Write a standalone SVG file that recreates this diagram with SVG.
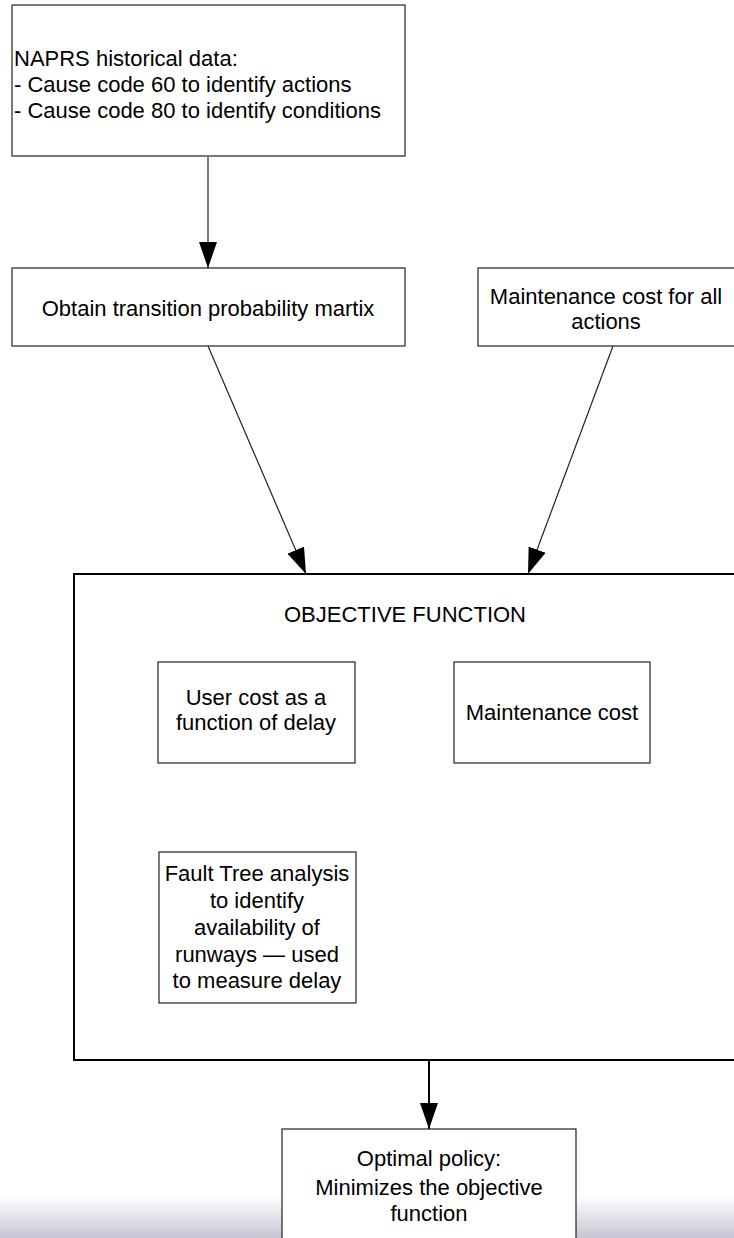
<svg xmlns="http://www.w3.org/2000/svg" width="734" height="1238" viewBox="0 0 734 1238">
<style>
  .box { fill: #ffffff; stroke: #222222; stroke-width: 1.2; }
  .big { fill: #ffffff; stroke: #000000; stroke-width: 2; }
  .t { font-family: "Liberation Sans", Arial, sans-serif; font-size: 22px; fill: #000000; }
  .c { text-anchor: middle; }
  .line { stroke: #222222; stroke-width: 1.2; fill: none; }
  .thick { stroke: #000000; stroke-width: 2; fill: none; }
</style>
<defs>
  <linearGradient id="shade" x1="0" y1="0" x2="0" y2="1">
    <stop offset="0" stop-color="#ffffff"/>
    <stop offset="1" stop-color="#c6c6d4"/>
  </linearGradient>
  <marker id="ah" markerUnits="userSpaceOnUse" markerWidth="26" markerHeight="18" refX="26" refY="9" viewBox="0 0 26 18" orient="auto">
    <path d="M0,0 L26,9 L0,18 Z" fill="#000000"/>
  </marker>
  <marker id="ah2" markerUnits="userSpaceOnUse" markerWidth="26" markerHeight="18" refX="26" refY="9" viewBox="0 0 26 18" orient="auto-start-reverse">
    <path d="M0,0 L26,9 L0,18 Z" fill="#000000"/>
  </marker>
</defs>
<rect x="0" y="1196" width="734" height="42" fill="url(#shade)"/>
<g id="connectors">
  <line class="line" x1="208" y1="157" x2="208" y2="268" marker-end="url(#ah)"/>
  <line class="line" x1="208" y1="346" x2="306" y2="574" marker-end="url(#ah)"/>
  <line class="line" x1="613" y1="346" x2="528" y2="574" marker-end="url(#ah)"/>
  <line class="line" x1="355" y1="712" x2="454" y2="712"/>
  <line class="thick" x1="258" y1="764" x2="258" y2="852" marker-start="url(#ah2)" marker-end="url(#ah2)"/>
  <line class="thick" x1="429" y1="1060" x2="429" y2="1129" marker-end="url(#ah)"/>
</g>
<g id="naprs">
  <rect class="box" x="12" y="5" width="393" height="151"/>
  <text class="t" x="14" y="66">NAPRS historical data:</text>
  <text class="t" x="14" y="92">- Cause code 60 to identify actions</text>
  <text class="t" x="14" y="118">- Cause code 80 to identify conditions</text>
</g>
<g id="transition">
  <rect class="box" x="12" y="268" width="393" height="78"/>
  <text class="t c" x="208" y="316">Obtain transition probability martix</text>
</g>
<g id="maint-all">
  <rect class="box" x="478" y="268" width="270" height="78"/>
  <text class="t c" x="606" y="304">Maintenance cost for all</text>
  <text class="t c" x="606" y="329">actions</text>
</g>
<g id="objective">
  <rect class="big" x="74" y="574" width="680" height="486"/>
  <text class="t c" x="405" y="622">OBJECTIVE FUNCTION</text>
</g>
<g id="user-cost">
  <rect class="box" x="158" y="662" width="197" height="101"/>
  <text class="t c" x="256" y="705">User cost as a</text>
  <text class="t c" x="256" y="730">function of delay</text>
</g>
<g id="maint-cost">
  <rect class="box" x="454" y="662" width="196" height="101"/>
  <text class="t c" x="552" y="720">Maintenance cost</text>
</g>
<g id="fault-tree">
  <rect class="box" x="159" y="852" width="197" height="151"/>
  <text class="t c" x="257" y="881">Fault Tree analysis</text>
  <text class="t c" x="257" y="908">to identify</text>
  <text class="t c" x="257" y="935">availability of</text>
  <text class="t c" x="257" y="962">runways — used</text>
  <text class="t c" x="257" y="988">to measure delay</text>
</g>
<g id="optimal">
  <rect class="box" x="282" y="1129" width="294" height="120"/>
  <text class="t c" x="429" y="1166">Optimal policy:</text>
  <text class="t c" x="429" y="1195">Minimizes the objective</text>
  <text class="t c" x="429" y="1221">function</text>
</g>
</svg>
